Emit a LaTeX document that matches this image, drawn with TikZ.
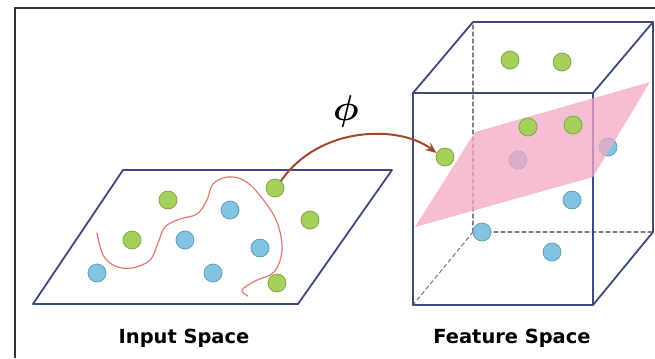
\documentclass[tikz,border=0pt]{standalone}
\usepackage{amsmath,amssymb}
\usepackage{fontspec}
\newfontfamily\labelfont{DejaVu Sans}
\usepackage{tikz}
\usetikzlibrary{arrows.meta}
\usepackage{xcolor}
\definecolor{edgeblue}{HTML}{3E4A7E}
\definecolor{dotgreen}{HTML}{A6D05C}
\definecolor{dotblue}{HTML}{82C4E2}
\definecolor{planepink}{HTML}{F2A9C4}
\definecolor{curvered}{HTML}{E27A74}
\definecolor{maparrow}{HTML}{A2482C}

\begin{document}
\begin{tikzpicture}[x=1bp,y=-1bp,>={Stealth[length=11bp,width=9bp]},line cap=round,
  edge/.style={edgeblue,line width=1.8bp},
  hidden/.style={gray,line width=1.1bp,dash pattern=on 4bp off 3bp},
  gdot/.style={circle,inner sep=0pt,minimum size=18bp,fill=dotgreen,draw=dotgreen!80!black,line width=0.8bp},
  bdot/.style={circle,inner sep=0pt,minimum size=18bp,fill=dotblue,draw=dotblue!80!black,line width=0.8bp},
  caption/.style={font=\labelfont\bfseries\fontsize{19.5}{22}\selectfont,anchor=base,inner sep=0pt}]
\useasboundingbox (0,0) rectangle (655,358);
\fill[white] (0,0) rectangle (655,358);
\draw[black!80,line width=1.8bp,line cap=butt] (15,358) -- (15,8) -- (655,8);
\draw[edge,line join=round] (33,304) -- (298,304) -- (392,170) -- (123,170) -- cycle;
\draw[curvered,line width=1.2bp] plot[smooth,tension=0.6] coordinates {(97,233) (103,255) (115,266) (132,268) (150,260) (158,243) (165,227) (180,219) (197,214) (207,200) (213,184) (228,177) (245,181) (262,198) (277,222) (282,250) (274,272) (255,281) (242,290) (248,296)};
\node[gdot] (in1) at (168,200) {};
\node[bdot] (in2) at (230,210) {};
\node[gdot] (in3) at (275,188) {};
\node[gdot] (in4) at (310,220) {};
\node[gdot] (in5) at (132,240) {};
\node[bdot] (in6) at (185,240) {};
\node[bdot] (in7) at (260,248) {};
\node[bdot] (in8) at (97,273) {};
\node[bdot] (in9) at (213,273) {};
\node[gdot] (in10) at (277,283) {};
\node[caption] (inlabel) at (184,343) {Input Space};
\draw[hidden] (473,232) -- (473,22);
\draw[hidden] (473,232) -- (653,232);
\draw[hidden] (473,232) -- (413,305);
\draw[edge,line join=round] (413,93) -- (593,93) -- (593,305) -- (413,305) -- cycle;
\draw[edge,line join=round] (413,93) -- (473,22) -- (653,22) -- (593,93);
\draw[edge,line join=round] (653,22) -- (653,232) -- (593,305);
\node[bdot] (ft1) at (482,232) {};
\node[bdot] (ft2) at (518,160) {};
\node[bdot] (ft3) at (608,147) {};
\fill[planepink,opacity=0.75] (415,227) -- (475,132) -- (650,82) -- (593,177) -- cycle;
\node[gdot] (ft4) at (510,60) {};
\node[gdot] (ft5) at (562,62) {};
\node[gdot] (ft6) at (528,127) {};
\node[gdot] (ft7) at (573,125) {};
\node[gdot] (ft8) at (445,157) {};
\node[bdot] (ft9) at (572,200) {};
\node[bdot] (ft10) at (552,252) {};
\node[caption] (ftlabel) at (512,343) {Feature Space};
\draw[->,maparrow,line width=2bp] (in3.50) .. controls (320,125) and (400,125) .. (ft8.155);
\node[font=\Huge,scale=1.45] (phi) at (346,112) {$\boldsymbol{\phi}$};
\end{tikzpicture}
\end{document}
